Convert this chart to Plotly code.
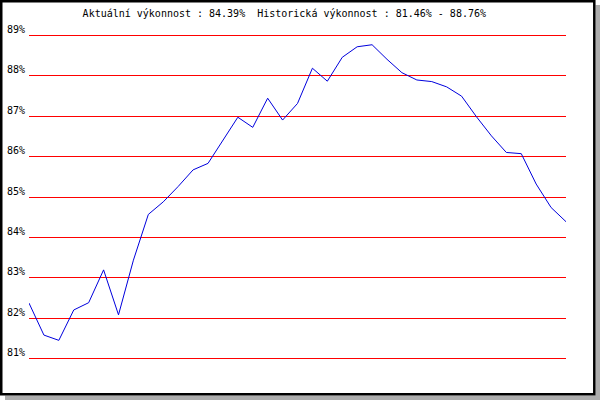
import plotly.graph_objects as go

# Data
points = list(range(37))
performance = [82.38, 81.59, 81.46, 82.21, 82.39, 83.20, 82.09, 83.44, 84.57, 84.88,
               85.26, 85.67, 85.83, 86.40, 86.97, 86.72, 87.44, 86.90, 87.31, 88.18,
               87.86, 88.45, 88.71, 88.76, 88.40, 88.07, 87.89, 87.85, 87.72, 87.49,
               86.98, 86.51, 86.10, 86.07, 85.32, 84.74, 84.39]
tick_values = [81, 82, 83, 84, 85, 86, 87, 88, 89]
tick_labels = ["81%", "82%", "83%", "84%", "85%", "86%", "87%", "88%", "89%"]
title_text = "Aktuální výkonnost : 84.39%  Historická výkonnost : 81.46% - 88.76%"

W, H = 600, 400
ML, MR, MT, MB = 29, 34, 33, 39
PW = W - ML - MR
PH = H - MT - MB


def fx(px):
    return (px - ML) / PW


def fy(py):
    return 1 - (py - MT) / PH


font_family = "DejaVu Sans Mono"

fig = go.Figure()
fig.add_trace(go.Scatter(
    x=points, y=performance, mode="lines",
    line=dict(color="#0000dd", width=1),
    hoverinfo="skip", showlegend=False,
))

shadow = "#adadad"
shapes = [
    # right shadow strip
    dict(type="rect", xref="paper", yref="paper",
         x0=fx(595.5), x1=fx(600), y0=fy(400), y1=fy(5),
         fillcolor=shadow, line=dict(width=0), layer="above"),
    # bottom shadow strip
    dict(type="rect", xref="paper", yref="paper",
         x0=fx(5), x1=fx(600), y0=fy(400), y1=fy(395.5),
         fillcolor=shadow, line=dict(width=0), layer="above"),
    # black frame
    dict(type="rect", xref="paper", yref="paper",
         x0=fx(1.25), x1=fx(594.3), y0=fy(394.3), y1=fy(1.2),
         fillcolor="rgba(0,0,0,0)", line=dict(color="black", width=2.5), layer="above"),
]

fig.update_layout(
    width=W, height=H, autosize=False,
    margin=dict(l=ML, r=MR, t=MT, b=MB, pad=0, autoexpand=False),
    paper_bgcolor="white", plot_bgcolor="white",
    showlegend=False,
    shapes=shapes,
    title=dict(text=title_text, x=fx(284.3), xref="paper", xanchor="center",
               y=1 - 13.5 / H, yref="container", yanchor="middle",
               font=dict(family=font_family, size=10, color="black")),
    xaxis=dict(range=[0, 36], showgrid=False, zeroline=False, showticklabels=False,
               showline=False, ticks="", fixedrange=True, automargin=False),
    yaxis=dict(range=[80.95, 89.05], tickvals=tick_values, ticktext=tick_labels,
               showgrid=True, gridcolor="#ff0000", gridwidth=1, zeroline=False,
               showline=False, ticks="", ticklabelstandoff=3, ticklabelshift=-6,
               tickfont=dict(family=font_family, size=10, color="black"),
               fixedrange=True, automargin=False),
)

fig.write_html("out.html",
               config={"displayModeBar": False, "staticPlot": True},
               post_script="document.body.style.margin='0';document.body.style.padding='0';")
